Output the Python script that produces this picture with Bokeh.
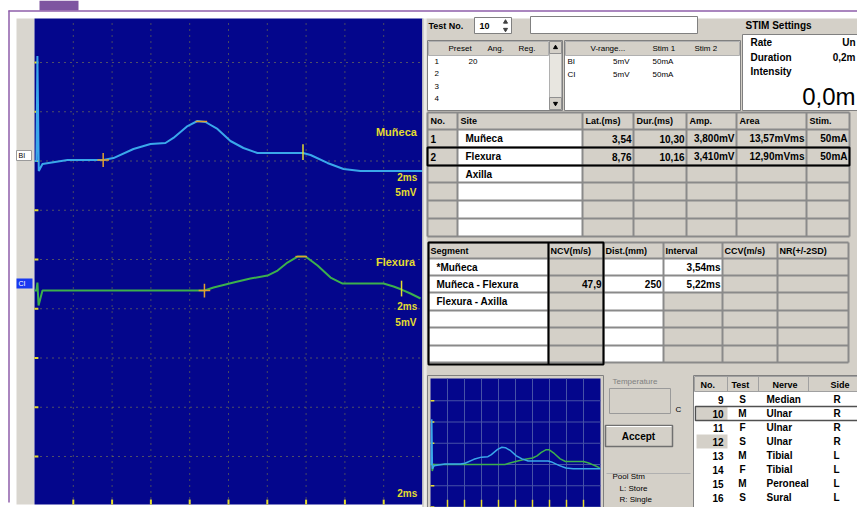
import numpy as np
from bokeh.plotting import figure
from bokeh.models import Range1d
from bokeh.core.properties import value
from bokeh.embed import file_html
from bokeh.resources import INLINE

# ---------------- data ----------------
# Trace 1 (Muñeca): time in ms, amplitude in mV relative to its baseline
t1_ms = [0.0, 0.10, 0.15, 0.22, 0.41, 1.70, 3.40, 3.54, 4.07, 5.10, 5.98, 6.75, 7.16, 7.89, 8.40,
         8.81, 9.43, 10.10, 10.77, 11.49, 12.16, 13.84, 14.23, 15.10, 15.93, 16.80, 20.0]
a1_mv = [0.0, 0.0, 10.66, -1.02, -0.30, 0.10, 0.10, 0.10, 0.30, 1.22, 1.73, 1.83, 2.34, 3.55, 4.06,
         3.96, 3.25, 2.03, 1.32, 0.81, 0.81, 0.81, 0.61, -0.20, -0.81, -1.02, -1.02]
# Trace 2 (Flexura)
t2_ms = [0.0, 0.10, 0.15, 0.21, 0.41, 8.76, 9.23, 10.26, 11.13, 12.01, 12.53, 13.04, 13.56, 13.97,
         14.59, 15.26, 15.88, 16.44, 17.99, 18.51, 18.92, 19.38, 19.90]
a2_mv = [0.0, 0.0, 0.81, -1.52, 0.0, 0.0, 0.30, 0.81, 1.22, 1.52, 2.03, 2.84, 3.45, 3.45,
         2.54, 1.32, 0.71, 0.71, 0.71, 0.41, 0.10, -0.30, -0.81]
channel_offset_mv = [35.0, 21.85]
peak_ms = [8.6, 13.75]

# site table
site_no = ["1", "2", ""]
sites = ["Muñeca", "Flexura", "Axilla"]
lat_ms = ["3,54", "8,76", ""]
dur_ms = ["10,30", "10,16", ""]
amp_mv = ["3,800mV", "3,410mV", ""]
area_mvms = ["13,57mVms", "12,90mVms", ""]
stim_ma = ["50mA", "50mA", ""]
lat_vals = [3.54, 8.76]
dur_vals = [10.30, 10.16]
site_headers = ["No.", "Site", "Lat.(ms)", "Dur.(ms)", "Amp.", "Area", "Stim."]

# segment table
seg_headers = ["Segment", "NCV(m/s)", "Dist.(mm)", "Interval", "CCV(m/s)", "NR(+/-2SD)"]
segments = ["*Muñeca", "Muñeca - Flexura", "Flexura - Axilla"]
ncv = ["", "47,9", ""]
dist_mm = ["", "250", ""]
interval = ["3,54ms", "5,22ms", ""]

# test list
test_no = ["9", "10", "11", "12", "13", "14", "15", "16"]
test_type = ["S", "M", "F", "S", "M", "F", "M", "S"]
nerve = ["Median", "Ulnar", "Ulnar", "Ulnar", "Tibial", "Tibial", "Peroneal", "Sural"]
side = ["R", "R", "R", "R", "L", "L", "L", "L"]
list_headers = ["No.", "Test", "Nerve", "Side"]

# presets / channels / stimulus
preset_rows = ["1", "2", "3", "4"]
preset_ang = ["20", "", "", ""]
preset_headers = ["Preset", "Ang.", "Reg."]
ch_names = ["BI", "CI"]
v_range = ["5mV", "5mV"]
stim1 = ["50mA", "50mA"]
ch_headers = ["V-range...", "Stim 1", "Stim 2"]
stim_labels = ["Rate", "Duration", "Intensity"]
stim_values = ["Un", "0,2m", ""]
intensity = "0,0m"
test_number = "10"

# grid ticks
grid_ms = [2, 4, 6, 8, 10, 12, 14, 16, 18]
grid_mv = [5, 10, 15, 20, 25, 30, 35, 40, 45]
small_grid_mv = [-10, -5, 0, 5, 10, 15]
ms_per_div = 2
mv_per_div = 5

# ---------------- layout constants ----------------
PX_L, PX_R, PX_T, PX_B = 0, 857, 0, 507
X0, X1 = 34, 422
Y_TOP, Y_BOT, Y_ZERO = 18, 504, 505.25
DIV_Y = 49.25
pxms = (X1 - X0) / 10 / ms_per_div
pxmv = DIV_Y / mv_per_div
SX0, SX1, STOP, S_BASE = 430, 600, 378, 464
spxms = (SX1 - SX0) / 10 / ms_per_div
spxmv = 21.25 / mv_per_div

PANEL = "#d4d0c8"
BLUE = "#04068c"
YEL = "#e4dc30"
FONT = value("Liberation Sans")

p = figure(width=PX_R - PX_L, height=PX_B - PX_T, output_backend="svg", toolbar_location=None,
           x_range=Range1d(PX_L, PX_R), y_range=Range1d(PX_B, PX_T),
           x_axis_type=None, y_axis_type=None, min_border=0,
           background_fill_color="white", border_fill_color="white")
p.outline_line_color = None
p.grid.visible = False
p.extra_x_ranges = {"ms": Range1d((PX_L - X0) / pxms, (PX_R - X0) / pxms),
                    "ms2": Range1d((PX_L - SX0) / spxms, (PX_R - SX0) / spxms)}
p.extra_y_ranges = {"mv": Range1d((Y_ZERO - PX_B) / pxmv, (Y_ZERO - PX_T) / pxmv),
                    "mv2": Range1d((S_BASE - PX_B) / spxmv, (S_BASE - PX_T) / spxmv)}
MS = dict(x_range_name="ms", y_range_name="mv")
MS2 = dict(x_range_name="ms2", y_range_name="mv2")


def box(l, r, t, b, fill, line=None, lw=1):
    p.quad(left=[l], right=[r], top=[t], bottom=[b], fill_color=fill,
           line_color=line, line_width=lw)


def txt(xs, ys, texts, size="10px", color="black", align="left", style="bold", **kw):
    p.text(x=xs, y=ys, text=texts, text_font=FONT, text_font_size=size, text_color=color,
           text_align=align, text_baseline="middle", text_font_style=style, **kw)


def hline(x0, x1, y, color, w=1):
    p.segment(x0=[x0], y0=[y], x1=[x1], y1=[y], line_color=color, line_width=w)


def vline(x, y0, y1, color, w=1):
    p.segment(x0=[x], y0=[y0], x1=[x], y1=[y1], line_color=color, line_width=w)


# ---------------- window chrome ----------------
box(39, 78, 0, 10, "#7e55a0")
hline(8, 857, 10.5, "#8e5eaa", 1.5)
vline(8.5, 10, 502, "#8e5eaa", 1.5)
box(16, X0, Y_TOP, Y_BOT, "#d9d6cf")
box(16, 31, 150, 160, "white", "#9a9a9a")
txt([18], [155], ["BI"], size="7px", style="normal")
box(16, 32, 278, 288, "#1838f0")
txt([18], [283], ["CI"], size="7px", color="white", style="normal")

# ---------------- main oscilloscope ----------------
box(X0, X1, Y_TOP, Y_BOT, BLUE)
mv_top = (Y_ZERO - Y_TOP) / pxmv
mv_bot = (Y_ZERO - Y_BOT) / pxmv
p.segment(x0=grid_ms, y0=[mv_bot] * len(grid_ms), x1=grid_ms, y1=[mv_top] * len(grid_ms),
          line_color="#8a8a3a", line_dash="1 5", line_width=1, **MS)
p.segment(x0=[0] * len(grid_mv), y0=grid_mv, x1=[10 * ms_per_div] * len(grid_mv), y1=grid_mv,
          line_color="#9a9a40", line_dash="1 5", line_width=1, **MS)
# yellow edge ticks
p.segment(x0=[0] * len(grid_mv), y0=grid_mv, x1=[0.2] * len(grid_mv), y1=grid_mv,
          line_color=YEL, line_width=2, **MS)
p.segment(x0=grid_ms, y0=[mv_bot] * len(grid_ms), x1=grid_ms, y1=[mv_bot + 0.5] * len(grid_ms),
          line_color=YEL, line_width=2, **MS)

traces = [(t1_ms, a1_mv, "#3aa8ea"), (t2_ms, a2_mv, "#3cb04c")]
for k, (tt, aa, col) in enumerate(traces):
    off = channel_offset_mv[k]
    yy = np.array(aa) + off
    p.line(x=tt, y=yy, line_color=col, line_width=2, **MS)
    on = lat_vals[k]
    end = lat_vals[k] + dur_vals[k]
    y_on = np.interp(on, tt, aa) + off
    y_end = np.interp(end, tt, aa) + off
    y_pk = np.interp(peak_ms[k], tt, aa) + off
    p.segment(x0=[on], y0=[y_on - 0.7], x1=[on], y1=[y_on + 0.7], line_color="#e0a030", line_width=1.5, **MS)
    p.segment(x0=[on - 0.3], y0=[y_on], x1=[on + 0.3], y1=[y_on], line_color="#e0a030", line_width=1.5, **MS)
    p.segment(x0=[end], y0=[y_end - 0.7], x1=[end], y1=[y_end + 0.9], line_color=YEL, line_width=1.5, **MS)
    p.segment(x0=[peak_ms[k] - 0.3], y0=[y_pk], x1=[peak_ms[k] + 0.3], y1=[y_pk],
              line_color="#e0a030", line_width=1.5, **MS)
    txt([17.6], [off + 2.9], [sites[k]], size="11px", color=YEL, **MS)
    txt([18.7], [off - 1.65], ["2ms"], size="10px", color=YEL, **MS)
    txt([18.6], [off - 3.2], ["5mV"], size="10px", color=YEL, **MS)
txt([18.7], [1.2], ["2ms"], size="10px", color=YEL, **MS)

# ---------------- right panel ----------------
box(X1, 426, Y_TOP, PX_B, "#ecebe6")
box(426, PX_R, Y_TOP, PX_B, PANEL)
vline(X1 + 0.5, Y_TOP, PX_B, "#b8b6b0", 1)

# top row
txt([428], [25], ["Test No."], size="9px")
box(474, 511, 17, 33, "white", "#808080")
txt([479], [25], [test_number], size="9px")
p.scatter(x=[505], y=[21.5], marker="triangle", size=4, color="#404040")
p.scatter(x=[505], y=[29], marker="inverted_triangle", size=4, color="#404040")
box(530, 697, 16, 33, "white", "#808080")
txt([745], [25], ["STIM Settings"], size="10px")

# preset list
box(427, 562, 40, 110, "white", "#808080")
box(428, 548, 41, 55, PANEL, "#b0b0b0")
txt([448, 487, 518], [48, 48, 48], preset_headers, size="8px", style="normal")
txt([434] * 4, [61, 73, 86, 98], preset_rows, size="8px", style="normal")
txt([468] * 4, [61, 73, 86, 98], preset_ang, size="8px", style="normal")
box(549, 561, 41, 109, "#e8e6e0", "#b0b0b0")
box(549, 561, 41, 53, PANEL, "#909090")
box(549, 561, 97, 109, PANEL, "#909090")
p.scatter(x=[555], y=[47], marker="triangle", size=4, color="black")
p.scatter(x=[555], y=[103], marker="inverted_triangle", size=4, color="black")

# channel list
box(564, 740, 40, 110, "white", "#808080")
box(565, 739, 41, 55, PANEL, "#b0b0b0")
txt([590, 652, 694], [48, 48, 48], ch_headers, size="8px", style="normal")
txt([567, 567], [61, 74], ch_names, size="8px", style="normal")
txt([629, 629], [61, 74], v_range, size="8px", style="normal", align="right")
txt([652, 652], [61, 74], stim1, size="8px", style="normal")

# stim settings
box(742, 860, 34, 110, "white", "#808080")
txt([750, 750, 750], [42, 57, 71], stim_labels, size="10px")
txt([855, 855, 855], [42, 57, 71], stim_values, size="10px", align="right")
txt([855], [96], [intensity], size="24px", style="normal", align="right")

# site table
c1 = [427, 457, 582, 633, 686, 736, 806, 849]
r1 = [112, 129, 147, 165, 182, 200, 218, 236]
box(c1[0], c1[-1], r1[0], r1[-1], PANEL)
box(c1[1], c1[2], r1[1], r1[-1], "white")
for x in c1:
    vline(x, r1[0], r1[-1], "#8a8a8a", 2)
for y in r1:
    hline(c1[0], c1[-1], y, "#8a8a8a", 2)
hx = [c1[i] + 3 for i in range(len(site_headers))]
txt(hx, [r1[0] + 8.5] * len(hx), site_headers, size="9px")
for i in range(len(sites)):
    yc = (r1[i + 1] + r1[i + 2]) / 2
    txt([c1[0] + 3], [yc], [site_no[i]], size="10px")
    txt([c1[1] + 8], [yc], [sites[i]], size="10px")
    vals = [lat_ms[i], dur_ms[i], amp_mv[i], area_mvms[i], stim_ma[i]]
    txt([c1[j + 3] - 2 for j in range(5)], [yc] * 5, vals, size="10px", align="right")
box(c1[0], c1[-1], r1[2], r1[3], None, "black", 2)

# segment table
c2 = [428, 548, 603, 663, 722, 777, 848]
r2 = [242, 258, 275, 292, 310, 327, 345, 362]
box(c2[0], c2[-1], r2[0], r2[-1], PANEL)
box(c2[0], c2[1], r2[1], r2[-1], "white")
box(c2[2], c2[3], r2[1], r2[-1], "white")
box(c2[3], c2[4], r2[1], r2[3], "white")
for x in c2:
    vline(x, r2[0], r2[-1], "#8a8a8a", 2)
for y in r2:
    hline(c2[0], c2[-1], y, "#8a8a8a", 2)
txt([c2[i] + 2 for i in range(len(seg_headers))], [r2[0] + 8] * len(seg_headers), seg_headers, size="9px")
for i in range(len(segments)):
    yc = (r2[i + 1] + r2[i + 2]) / 2
    txt([c2[0] + 8], [yc], [segments[i]], size="10px")
    txt([c2[2] - 2, c2[3] - 2, c2[4] - 2], [yc] * 3, [ncv[i], dist_mm[i], interval[i]], size="10px", align="right")
box(c2[0], c2[2], r2[0], r2[-1] + 2, None, "black", 2)
vline(c2[1], r2[0], r2[-1] + 2, "black", 2)

# small overview plot
box(427, 603, 375, PX_B, PANEL, "#808080")
box(SX0, SX1, STOP, PX_B, BLUE)
smv_top = (S_BASE - STOP) / spxmv
smv_bot = (S_BASE - PX_B) / spxmv
p.segment(x0=grid_ms, y0=[smv_bot] * len(grid_ms), x1=grid_ms, y1=[smv_top] * len(grid_ms),
          line_color="#4652a6", line_width=1, **MS2)
p.segment(x0=[0] * len(small_grid_mv), y0=small_grid_mv, x1=[20] * len(small_grid_mv), y1=small_grid_mv,
          line_color="#4652a6", line_width=1, **MS2)
p.segment(x0=[0] * len(small_grid_mv), y0=small_grid_mv, x1=[0.45] * len(small_grid_mv), y1=small_grid_mv,
          line_color=YEL, line_width=1.5, **MS2)
p.segment(x0=grid_ms, y0=[-8.3] * len(grid_ms), x1=grid_ms, y1=[smv_bot] * len(grid_ms),
          line_color=YEL, line_width=1.5, **MS2)
for tt, aa, col in [traces[1], traces[0]]:
    p.line(x=tt, y=aa, line_color=col, line_width=1.5, **MS2)

# temperature / accept / pool
txt([612], [381], ["Temperature"], size="8px", color="#808080", style="normal")
box(609, 670, 388, 413, PANEL, "#9a9a9a")
txt([675], [409], ["C"], size="8px", style="normal")
box(605, 672, 425, 446, PANEL, "#707070", 1.5)
hline(606, 671, 426, "white", 1)
txt([638], [436], ["Accept"], size="10px", align="center")
hline(606, 690, 473, "#b0b0b0", 1)
txt([612], [476], ["Pool Stm"], size="8px", style="normal")
txt([619, 619], [488, 499], ["L: Store", "R: Single"], size="8px", style="normal")

# test list
box(693, 860, 375, PX_B + 2, "white", "#808080")
box(694, 860, 376, 391, PANEL, "#a0a0a0")
for x in [727, 758, 808]:
    vline(x, 376, 391, "#a0a0a0", 1)
txt([700, 731, 772, 830], [384] * 4, list_headers, size="9px")
ry = [399 + 14 * i for i in range(len(test_no))]
box(696, 727, ry[1] - 7, ry[1] + 7, PANEL)
box(696, 727, ry[3] - 7, ry[3] + 7, PANEL)
box(695, 858, ry[1] - 7, ry[1] + 7, None, "#505050", 1.5)
txt([723] * len(test_no), ry, test_no, size="10px", align="right")
txt([742] * len(test_no), ry, test_type, size="10px", align="center")
txt([766] * len(test_no), ry, nerve, size="10px")
txt([833] * len(test_no), ry, side, size="10px")

open("out.html", "w").write(file_html(p, INLINE))
